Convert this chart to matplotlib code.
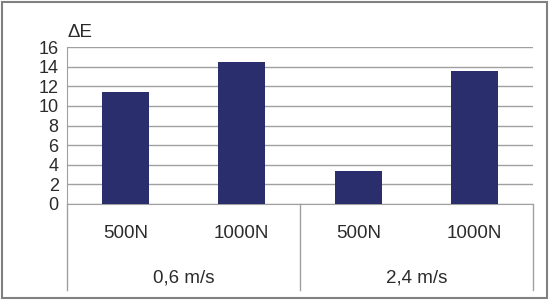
import matplotlib
matplotlib.use("Agg")
import matplotlib.pyplot as plt
from matplotlib.patches import Rectangle
from matplotlib.transforms import blended_transform_factory

# ─── Data ─────────────────────────────────────────────────────────────────────
loads = ["500N", "1000N", "500N", "1000N"]
speeds = ["0,6 m/s", "2,4 m/s"]
delta_e = [11.4, 14.5, 3.4, 13.6]
y_ticks = [0, 2, 4, 6, 8, 10, 12, 14, 16]

plt.rcParams["font.family"] = ["Liberation Sans", "DejaVu Sans"]
text_col = "#2b2b2b"
bar_col = "#2a2e6c"
grid_col = "#a0a0a0"

W, H = 549, 300
fig = plt.figure(figsize=(W / 100, H / 100), dpi=100)
fig.patch.set_facecolor("white")

# outer frame
fig.patches.append(Rectangle((2 / W, 2 / H), 1 - 4 / W, 1 - 4 / H,
                             transform=fig.transFigure, fill=False,
                             edgecolor="#808080", lw=1.5))

x0, x1, y_top, y_bot = 67, 533, 47, 204
ax = fig.add_axes([x0 / W, (H - y_bot) / H, (x1 - x0) / W, (y_bot - y_top) / H])

xs = range(len(delta_e))
ax.bar(xs, delta_e, width=0.4, color=bar_col, zorder=3)

ax.set_xlim(-0.5, len(delta_e) - 0.5)
ax.set_ylim(0, 16)
ax.set_yticks(y_ticks)
ax.set_yticklabels([str(t) for t in y_ticks], fontsize=13, color=text_col)
ax.tick_params(axis="y", length=0, pad=6)
ax.set_xticks([])
ax.yaxis.grid(True, color=grid_col, lw=1.0, zorder=0)

for s in ("top", "right"):
    ax.spines[s].set_visible(False)
ax.spines["left"].set_color(grid_col)
ax.spines["bottom"].set_color(grid_col)

ax.text(0.0, 1.04, "ΔE", transform=ax.transAxes, fontsize=13.5,
        color=text_col, ha="left", va="bottom")

# two-level category axis
trans = blended_transform_factory(ax.transData, ax.transAxes)
px = 1 / (y_bot - y_top)  # one pixel in axes units (vertical)
for i, lab in enumerate(loads):
    ax.text(i, -30 * px, lab, transform=trans, fontsize=13.5,
            color=text_col, ha="center", va="center")
for j, lab in enumerate(speeds):
    ax.text(2 * j + 0.5, -74 * px, lab, transform=trans, fontsize=13.5,
            color=text_col, ha="center", va="center")

for xv in (-0.5, 1.5, 3.5):
    ax.plot([xv, xv], [0, -86 * px], transform=trans, color=grid_col,
            lw=1.0, clip_on=False)

fig.savefig("out.png", dpi=100)
